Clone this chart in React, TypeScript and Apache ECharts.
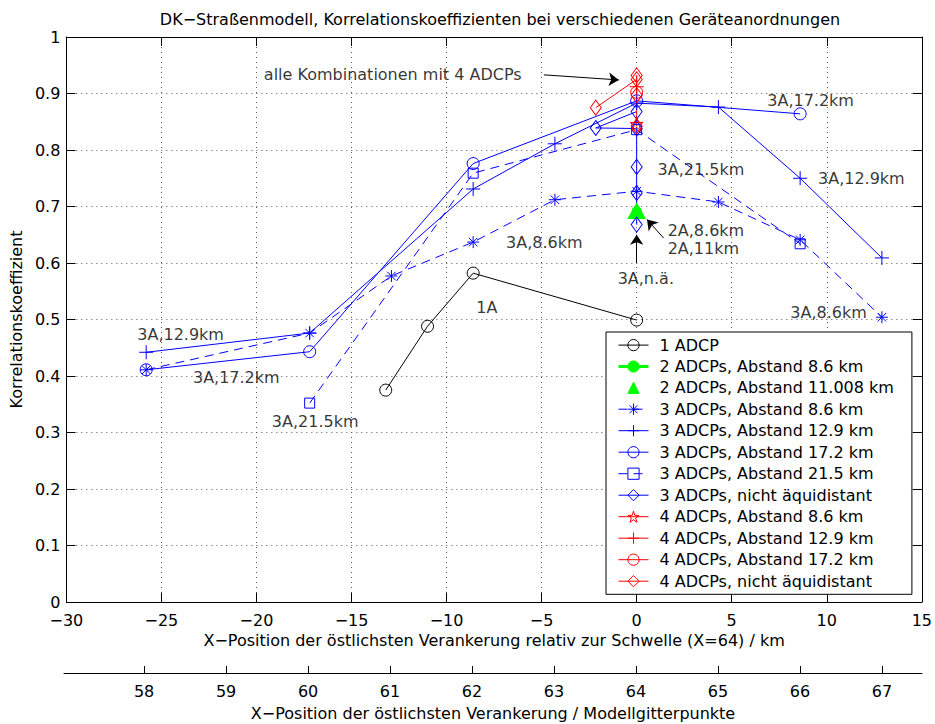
import React, { useEffect, useRef } from 'react';
import * as echarts from 'echarts';

const FONT = '"DejaVu Sans", "Liberation Sans", sans-serif';

// ---- axes ----
const kmMin = -30;
const kmMax = 15;
const kmStep = 5;
const corrMin = 0;
const corrMax = 1;
const corrStep = 0.1;
const gridPointLabels = [58, 59, 60, 61, 62, 63, 64, 65, 66, 67];
const thresholdGridPoint = 64;
const kmPerGridPoint = 4.3;

const titleText = 'DK\u2212Straßenmodell, Korrelationskoeffizienten bei verschiedenen Geräteanordnungen';
const xName1 = 'X\u2212Position der östlichsten Verankerung relativ zur Schwelle (X=64) / km';
const xName2 = 'X\u2212Position der östlichsten Verankerung / Modellgitterpunkte';
const yName = 'Korrelationskoeffizient';

// ---- series values (x in km, y = correlation) ----
const a1X = [-13.2, -11.0, -8.6, 0];
const a1Y = [0.375, 0.488, 0.582, 0.499];

const a2d86X = [0];
const a2d86Y = [0.692];
const a2d11X = [0];
const a2d11Y = [0.692];

const a3d86X = [-25.8, -17.2, -12.9, -8.6, -4.3, 0, 4.3, 8.6, 12.9];
const a3d86Y = [0.411, 0.476, 0.577, 0.637, 0.712, 0.727, 0.708, 0.641, 0.504];

const a3d129X = [-25.8, -17.2, -8.6, -4.3, 0, 4.3, 8.6, 12.9];
const a3d129Y = [0.442, 0.476, 0.731, 0.811, 0.883, 0.876, 0.75, 0.609];

const a3d172X = [-25.8, -17.2, -8.6, 0, 8.6];
const a3d172Y = [0.411, 0.443, 0.776, 0.887, 0.864];

const a3d215X = [-17.2, -8.6, 0, 8.6];
const a3d215Y = [0.352, 0.759, 0.836, 0.634];

const a3naX = [0, 0, 0, 0, -2.15, 0];
const a3naY = [0.668, 0.724, 0.77, 0.838, 0.839, 0.868];

const a4d86X = [0];
const a4d86Y = [0.846];
const a4d129X = [0];
const a4d129Y = [0.912];
const a4d172X = [0];
const a4d172Y = [0.902];
const a4naX = [-2.15, 0, 0, 0, 0];
const a4naY = [0.875, 0.925, 0.932, 0.897, 0.842];

// ---- annotations ----
const noteTexts = [
  'alle Kombinationen mit 4 ADCPs',
  '3A,17.2km',
  '3A,21.5km',
  '3A,12.9km',
  '3A,8.6km',
  '2A,8.6km',
  '2A,11km',
  '3A,n.ä.',
  '1A',
  '3A,8.6km',
  '3A,12.9km',
  '3A,17.2km',
  '3A,21.5km',
];
const noteX = [-19.61, 6.87, 1.1, 9.54, -6.87, 1.63, 1.63, -1.0, -8.44, 8.08, -26.27, -23.34, -19.19];
const noteY = [0.933, 0.887, 0.766, 0.75, 0.637, 0.658, 0.625, 0.573, 0.522, 0.513, 0.473, 0.398, 0.319];

const arrowFromX = [-4.88, 1.42, 0];
const arrowFromY = [0.933, 0.644, 0.6];
const arrowToX = [-0.94, 0.545, 0];
const arrowToY = [0.924, 0.677, 0.65];

// ---- marker shapes ----
const SYM_ASTERISK = 'path://M0,-10L0,10M-10,0L10,0M-7.07,-7.07L7.07,7.07M-7.07,7.07L7.07,-7.07';
const SYM_PLUS = 'path://M0,-10L0,10M-10,0L10,0';
const SYM_DIAMOND = 'path://M0,-10L7.5,0L0,10L-7.5,0Z';
const SYM_STAR =
  'path://M0,-10L2.245,-3.09L9.511,-3.09L3.633,1.18L5.878,8.09L0,3.82L-5.878,8.09L-3.633,1.18L-9.511,-3.09L-2.245,-3.09Z';

const BLUE = '#0000ff';
const RED = '#ff0000';
const GREEN = '#00ff00';
const BLACK = '#000000';

function pairs(xs: number[], ys: number[]) {
  return xs.map((x, i) => [x, ys[i]]);
}

function mk(
  name: string,
  xs: number[],
  ys: number[],
  color: string,
  symbol: string,
  symbolSize: number | number[],
  opts: { dashed?: boolean; fill?: string; noLine?: boolean; width?: number } = {}
) {
  return {
    type: 'line',
    name,
    data: pairs(xs, ys),
    symbol,
    symbolSize,
    showSymbol: true,
    lineStyle: {
      color,
      width: opts.width ?? 1,
      type: opts.dashed ? [9, 6] : 'solid',
      opacity: opts.noLine ? 0 : 1,
    },
    itemStyle: { color: opts.fill || 'none', borderColor: color, borderWidth: 1 },
    emphasis: { disabled: true },
    silent: true,
  };
}

export default function App() {
  const ref = useRef<HTMLDivElement>(null);

  useEffect(() => {
    document.body.style.margin = '0';
    const chart = echarts.init(ref.current!, null, { renderer: 'svg' });

    const series: any[] = [
      mk('1 ADCP', a1X, a1Y, BLACK, 'circle', 12),
      mk('2 ADCPs, Abstand 8.6 km', a2d86X, a2d86Y, GREEN, 'circle', 9, { fill: GREEN, width: 3 }),
      mk('2 ADCPs, Abstand 11.008 km', a2d11X, a2d11Y, GREEN, 'triangle', [17, 15], { fill: GREEN, noLine: true }),
      mk('3 ADCPs, Abstand 8.6 km', a3d86X, a3d86Y, BLUE, SYM_ASTERISK, 12, { dashed: true }),
      mk('3 ADCPs, Abstand 12.9 km', a3d129X, a3d129Y, BLUE, SYM_PLUS, 14),
      mk('3 ADCPs, Abstand 17.2 km', a3d172X, a3d172Y, BLUE, 'circle', 12),
      mk('3 ADCPs, Abstand 21.5 km', a3d215X, a3d215Y, BLUE, 'rect', 10, { dashed: true }),
      mk('3 ADCPs, nicht äquidistant', a3naX, a3naY, BLUE, SYM_DIAMOND, [11, 15]),
      mk('4 ADCPs, Abstand 8.6 km', a4d86X, a4d86Y, RED, SYM_STAR, 13),
      mk('4 ADCPs, Abstand 12.9 km', a4d129X, a4d129Y, RED, SYM_PLUS, 14),
      mk('4 ADCPs, Abstand 17.2 km', a4d172X, a4d172Y, RED, 'circle', 12),
      mk('4 ADCPs, nicht äquidistant', a4naX, a4naY, RED, SYM_DIAMOND, [11, 15]),
    ];
    const legendNames = series.map((s) => s.name);

    series.push({
      type: 'scatter',
      name: 'annotations',
      silent: true,
      symbolSize: 0,
      z: 10,
      data: noteTexts.map((t, i) => ({ name: t, value: [noteX[i], noteY[i]] })),
      label: {
        show: true,
        position: 'right',
        distance: 0,
        formatter: '{b}',
        fontFamily: FONT,
        fontSize: 16,
        lineHeight: 16,
        color: '#000',
      },
      markLine: {
        silent: true,
        symbol: ['none', 'arrow'],
        symbolSize: 10,
        label: { show: false },
        lineStyle: { color: '#000', width: 1, type: 'solid' },
        emphasis: { disabled: true },
        data: arrowFromX.map((x, i) => [
          { coord: [x, arrowFromY[i]] },
          { coord: [arrowToX[i], arrowToY[i]] },
        ]),
      },
    });

    const minusFmt = (v: number) => (v < 0 ? '\u2212' + Math.abs(v) : String(v));
    const axisText = { fontFamily: FONT, fontSize: 16, color: '#000' };
    const dotted = { show: true, lineStyle: { color: '#555', type: [1, 4], width: 1 } };
    const blackLine = { show: true, onZero: false, lineStyle: { color: '#000', width: 1 } };

    chart.setOption({
      animation: false,
      backgroundColor: '#fff',
      title: {
        text: titleText,
        left: 495,
        top: 6,
        textAlign: 'center',
        textStyle: { fontFamily: FONT, fontSize: 16, fontWeight: 'normal', color: '#000' },
      },
      grid: [
        { left: 64, right: 13, top: 37, bottom: 122 },
        { left: 64, right: 13, top: 672, height: 1 },
      ],
      xAxis: [
        {
          type: 'value',
          gridIndex: 0,
          position: 'bottom',
          min: kmMin,
          max: kmMax,
          interval: kmStep,
          name: xName1,
          nameLocation: 'middle',
          nameGap: 29,
          nameTextStyle: axisText,
          axisLine: blackLine,
          axisTick: { inside: true, length: 9, lineStyle: { color: '#000' } },
          axisLabel: { ...axisText, lineHeight: 16, margin: 10, formatter: minusFmt },
          splitLine: dotted,
        },
        {
          type: 'value',
          gridIndex: 0,
          position: 'top',
          min: kmMin,
          max: kmMax,
          interval: kmStep,
          axisLine: blackLine,
          axisTick: { inside: true, length: 9, lineStyle: { color: '#000' } },
          axisLabel: { show: false },
          splitLine: { show: false },
        },
        {
          type: 'value',
          gridIndex: 1,
          position: 'bottom',
          min: thresholdGridPoint + kmMin / kmPerGridPoint,
          max: thresholdGridPoint + kmMax / kmPerGridPoint,
          name: xName2,
          nameLocation: 'middle',
          nameGap: 32,
          nameTextStyle: axisText,
          axisLine: blackLine,
          axisTick: { inside: true, length: 7, lineStyle: { color: '#000' }, customValues: gridPointLabels },
          axisLabel: { ...axisText, margin: 10, customValues: gridPointLabels },
          splitLine: { show: false },
        },
      ],
      yAxis: [
        {
          type: 'value',
          gridIndex: 0,
          position: 'left',
          min: corrMin,
          max: corrMax,
          interval: corrStep,
          name: yName,
          nameLocation: 'middle',
          nameRotate: 90,
          nameGap: 37,
          nameTextStyle: axisText,
          axisLine: blackLine,
          axisTick: { inside: true, length: 9, lineStyle: { color: '#000' } },
          axisLabel: { ...axisText, lineHeight: 15, margin: 6 },
          splitLine: dotted,
        },
        {
          type: 'value',
          gridIndex: 0,
          position: 'right',
          min: corrMin,
          max: corrMax,
          interval: corrStep,
          axisLine: blackLine,
          axisTick: { inside: true, length: 9, lineStyle: { color: '#000' } },
          axisLabel: { show: false },
          splitLine: { show: false },
        },
        { type: 'value', gridIndex: 1, show: false, min: 0, max: 1 },
      ],
      legend: {
        data: legendNames,
        orient: 'vertical',
        left: 606,
        top: 332,
        itemWidth: 30,
        itemHeight: 14,
        itemGap: 5.3,
        padding: [5, 18, 5, 11],
        backgroundColor: '#fff',
        borderColor: '#000',
        borderWidth: 1,
        borderRadius: 0,
        selectedMode: false,
        itemStyle: { borderWidth: 1 },
        lineStyle: { width: 'inherit' },
        textStyle: { fontFamily: FONT, fontSize: 16, color: '#000', padding: [0, 0, 0, 6] },
      },
      series,
    });

    return () => chart.dispose();
  }, []);

  return <div ref={ref} style={{ position: 'absolute', left: 0, top: 0, width: 935, height: 724 }} />;
}
